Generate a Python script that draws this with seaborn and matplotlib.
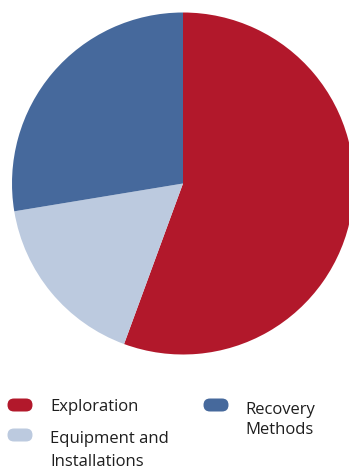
import matplotlib
matplotlib.use("Agg")
import matplotlib.pyplot as plt
from matplotlib.patches import FancyBboxPatch
import seaborn as sns

categories = ["Exploration", "Equipment and Installations", "Recovery Methods"]
shares = [55.6, 16.8, 27.6]
colors = ["#B2182B", "#BCCADF", "#46699C"]
legend_lines = [["Exploration"], ["Equipment and", "Installations"], ["Recovery", "Methods"]]

sns.set_theme(style="white")
plt.rcParams["font.family"] = ["Open Sans", "DejaVu Sans"]

W, H = 349, 468
fig = plt.figure(figsize=(W / 100, H / 100), dpi=100)
fig.patch.set_facecolor("white")

# pie axes placed in pixel units: centre (183, 183.5), radius 171
cx, cy, r = 183, 183.5, 171
ax = fig.add_axes([(cx - r) / W, (H - cy - r) / H, 2 * r / W, 2 * r / H])
wedges, _ = ax.pie(shares, colors=colors, startangle=90, counterclock=False,
                   radius=1.0, wedgeprops=dict(linewidth=0))
for w in wedges:
    w.set_clip_on(False)
ax.set_xlim(-1, 1)
ax.set_ylim(-1, 1)
ax.set_aspect("equal")
ax.axis("off")

# legend drawn on a full-figure overlay in pixel coordinates
lax = fig.add_axes([0, 0, 1, 1], zorder=3)
lax.set_xlim(0, W)
lax.set_ylim(H, 0)
lax.axis("off")
lax.patch.set_alpha(0)

marker_pos = [(20, 405), (20, 435), (216, 405)]
text_pos = [[(50, 411)], [(50, 443), (50, 465.5)], [(245, 414), (245, 434)]]
for col, (mx, my), lines, tps in zip(colors, marker_pos, legend_lines, text_pos):
    mw, mh = 25, 13
    patch = FancyBboxPatch((mx - mw / 2, my - mh / 2), mw, mh,
                           boxstyle=f"round,pad=0,rounding_size={mh / 2}",
                           facecolor=col, edgecolor="none")
    lax.add_patch(patch)
    for line, (tx, ty) in zip(lines, tps):
        lax.text(tx, ty, line, fontsize=12, color="#1E1E1E",
                 ha="left", va="baseline")

fig.savefig("out.png", dpi=100, facecolor="white")
